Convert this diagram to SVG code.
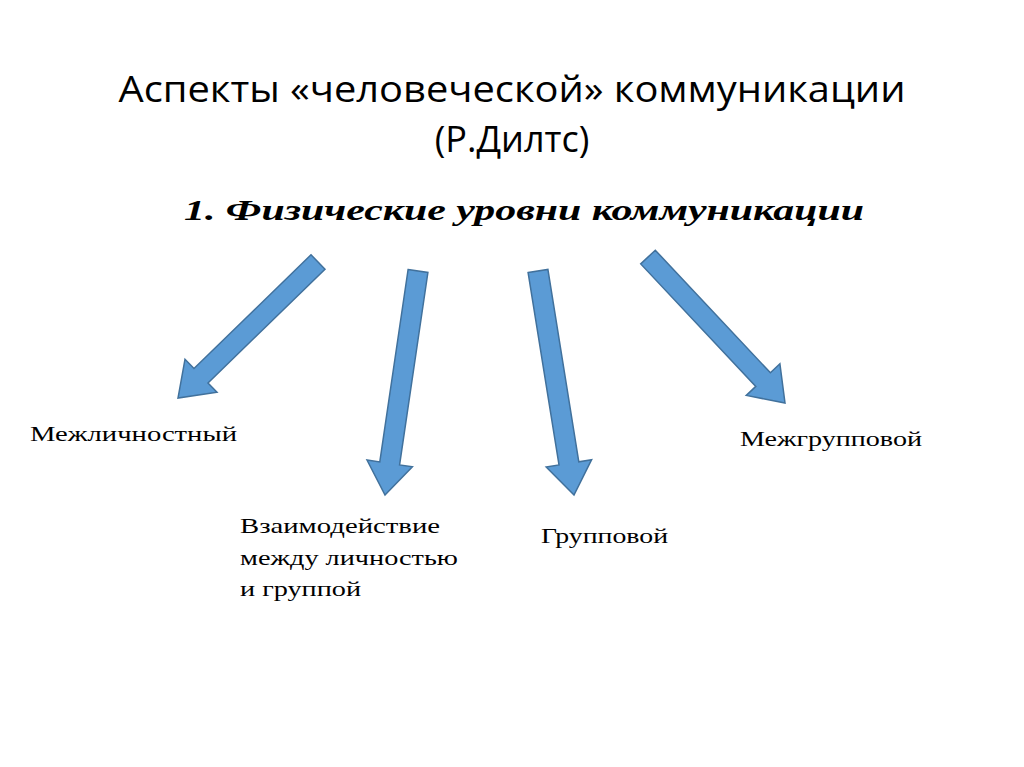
<svg xmlns="http://www.w3.org/2000/svg" width="1024" height="767" viewBox="0 0 1024 767">
<style>
.t{font-family:"Open Sans","Noto Sans",sans-serif;font-size:36px;fill:#000;text-anchor:middle}
.s{font-family:"Liberation Serif",serif;font-size:29px;font-weight:bold;font-style:italic;fill:#000}
.l{font-family:"Liberation Serif",serif;font-size:21px;fill:#000}
.a{fill:#5b9bd5;stroke:#41719c;stroke-width:1.5}
</style>
<rect width="1024" height="767" fill="#fff"/>
<g id="title">
<text class="t" x="512" y="102" textLength="787" lengthAdjust="spacingAndGlyphs">Аспекты «человеческой» коммуникации</text>
<text class="t" x="512" y="152">(Р.Дилтс)</text>
</g>
<g id="subtitle"><text class="s" x="184" y="220" textLength="680" lengthAdjust="spacingAndGlyphs">1. Физические уровни коммуникации</text></g>
<g id="connectors">
<polygon class="a" points="311,254.8 325,269.2 208,382.9 217,392.2 178,398 185,359.2 194,368.5"/>
<polygon class="a" points="408.1,269.5 427.9,272.5 399.6,464.9 412.4,466.8 385,495 367,460 379.8,461.9"/>
<polygon class="a" points="528.1,272.6 547.9,269.4 578.8,461.8 591.6,459.7 574,495 546.2,467.1 559,465"/>
<polygon class="a" points="640.7,263.9 655.3,250.2 770.4,372.8 779.9,363.8 785,403 746.3,395.4 755.8,386.4"/>
</g>
<g id="n1"><text class="l" x="30" y="441" textLength="207" lengthAdjust="spacingAndGlyphs">Межличностный</text></g>
<g id="n2"><text class="l" x="240" y="533" textLength="200" lengthAdjust="spacingAndGlyphs">Взаимодействие</text><text class="l" x="240" y="565" textLength="218" lengthAdjust="spacingAndGlyphs">между личностью</text><text class="l" x="240" y="596" textLength="121" lengthAdjust="spacingAndGlyphs">и группой</text></g>
<g id="n3"><text class="l" x="541" y="543" textLength="127" lengthAdjust="spacingAndGlyphs">Групповой</text></g>
<g id="n4"><text class="l" x="740" y="446" textLength="182" lengthAdjust="spacingAndGlyphs">Межгрупповой</text></g>
</svg>
